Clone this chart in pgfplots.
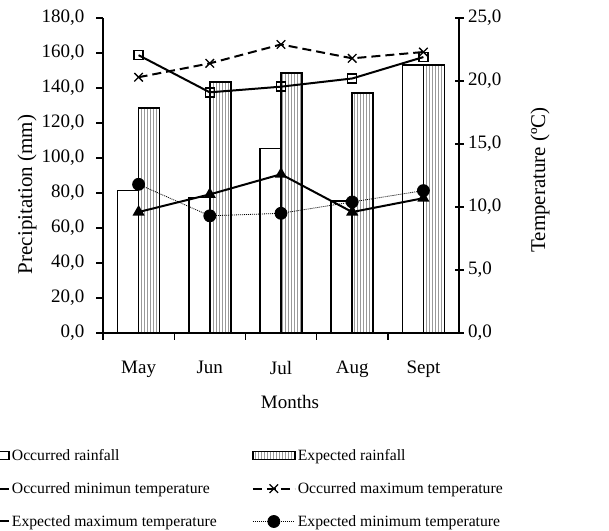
\documentclass[border=0pt]{standalone}
\usepackage{fontspec}
\setmainfont{Liberation Serif}
\usepackage{pgfplots}
\pgfplotsset{compat=1.18}
\usetikzlibrary{patterns}
\begin{document}
\begin{tikzpicture}
\begin{axis}[
  scale only axis, width=356pt, height=315pt,
  at={(0pt,0pt)}, anchor=south west,
  xmin=-0.5, xmax=4.5, ymin=0, ymax=180,
  axis x line*=bottom, axis y line*=left,
  axis line style={line width=1.6pt},
  xtick={-0.5,0.5,1.5,2.5,3.5}, xticklabels={May,Jun,Jul,Aug,Sept},
  ytick={0,20,...,180},
  tick style={line width=1.4pt, black},
  tick align=outside, major tick length=6.5pt,
  /pgf/number format/.cd, fixed, fixed zerofill, precision=1, use comma, assume math mode=true,
  /pgfplots/.cd,
  tick label style={font=\fontsize{19}{22}\selectfont, text=black},
  xticklabel style={xshift=35.6pt, yshift=-18pt},
  yticklabel style={xshift=-8.5pt},
  xlabel={Months},
  every axis x label/.style={at={(axis description cs:0.525,-0.219)}, anchor=center, font=\fontsize{19}{22}\selectfont},
  ylabel={Precipitation (mm)},
  every axis y label/.style={at={(axis description cs:-0.2135,0.44)}, anchor=center, rotate=90, font=\fontsize{21}{24}\selectfont},
  ybar=0pt, bar width=21pt,
]
\addplot[draw=black, line width=1.6pt, fill=white] coordinates {(0,81.5) (1,77.5) (2,105.5) (3,75.5) (4,153)};
\addplot[draw=black, line width=1.6pt, pattern=vertical lines, pattern color=gray!80] coordinates {(0,128.7) (1,143.4) (2,148.4) (3,137.3) (4,153)};
\end{axis}
\begin{axis}[
  scale only axis, width=356pt, height=315pt,
  at={(0pt,0pt)}, anchor=south west,
  xmin=-0.5, xmax=4.5, ymin=0, ymax=25,
  axis x line=none, axis y line*=right,
  axis line style={line width=1.6pt},
  ytick={0,5,...,25},
  y tick style={line width=1.4pt, black},
  tick align=center, major tick length=9pt,
  /pgf/number format/.cd, fixed, fixed zerofill, precision=1, use comma, assume math mode=true,
  /pgfplots/.cd,
  tick label style={font=\fontsize{19}{22}\selectfont, text=black},
  every y tick label/.append style={xshift=1pt},
  ylabel={Temperature (ºC)},
  every axis y label/.style={at={(axis description cs:1.2275,0.486)}, anchor=center, rotate=90, font=\fontsize{21}{24}\selectfont},
  legend columns=2, legend cell align=left,
  legend style={at={(axis description cs:-0.394,-0.356)}, anchor=north west, draw=none, fill=none,
    font=\fontsize{15.7}{18}\selectfont, row sep=16.5pt,
    /tikz/every even column/.append style={column sep=33pt}},
  legend image code/.code={\draw[mark repeat=2, mark phase=2, #1] plot coordinates {(0pt,0pt) (21pt,0pt) (42pt,0pt)};},
]
\addlegendimage{legend image code/.code={\draw[draw=black, line width=1.6pt, fill=white] (0pt,-4pt) rectangle (42pt,4pt);}}
\addlegendentry{Occurred rainfall}
\addlegendimage{legend image code/.code={\draw[draw=black, line width=1.6pt, pattern=vertical lines, pattern color=gray!80] (0pt,-4pt) rectangle (42pt,4pt);}}
\addlegendentry{Expected rainfall}
\addplot[black, line width=2pt, mark=triangle*, mark size=5pt, mark options={solid}] coordinates {(0,9.6) (1,11.0) (2,12.6) (3,9.6) (4,10.7)};
\addlegendentry{Occurred minimun temperature}
\addplot[black, line width=2pt, dash pattern=on 9pt off 5pt, mark=x, mark size=6pt, mark options={solid, line width=1.3pt}] coordinates {(0,20.3) (1,21.4) (2,22.9) (3,21.8) (4,22.3)};
\addlegendentry{Occurred maximum temperature}
\addplot[black, line width=2pt, mark=square, mark size=4.5pt, mark options={solid, fill=white, line width=1.5pt}] coordinates {(0,22.05) (1,19.1) (2,19.55) (3,20.2) (4,21.9)};
\addlegendentry{Expected maximum temperature}
\addplot[black, line width=0.8pt, dash pattern=on 1pt off 1pt, mark=*, mark size=6pt, mark options={solid}] coordinates {(0,11.8) (1,9.3) (2,9.5) (3,10.4) (4,11.3)};
\addlegendentry{Expected minimum temperature}
\end{axis}
\pgfresetboundingbox
\useasboundingbox (-103pt,-197pt) rectangle (506pt,333pt);
\end{tikzpicture}
\end{document}
